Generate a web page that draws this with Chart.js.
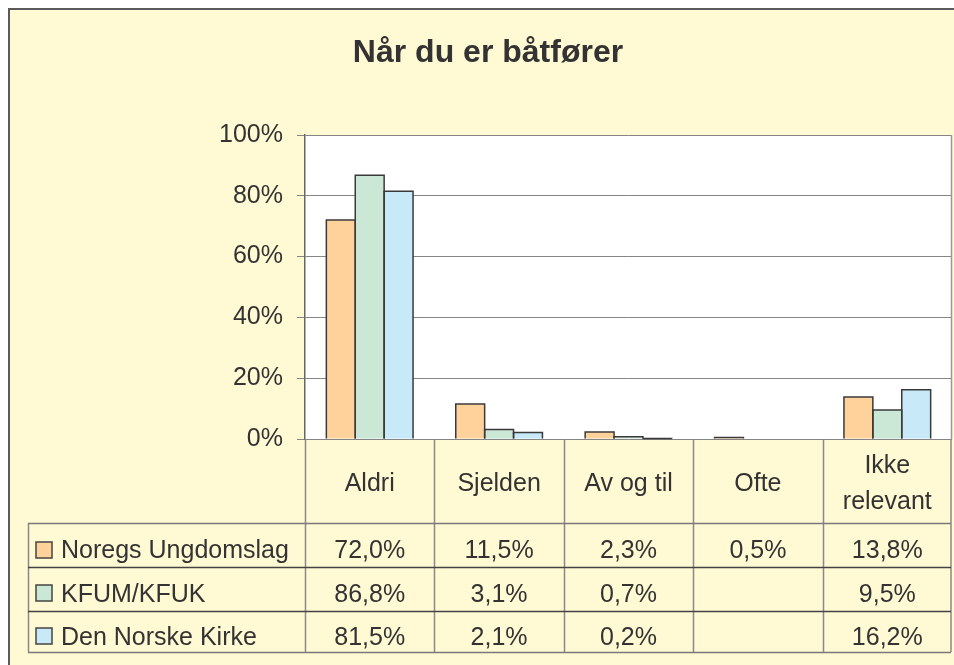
<!DOCTYPE html>
<html>
<head>
<meta charset="utf-8">
<script src="https://cdn.jsdelivr.net/npm/chart.js@4"></script>
<style>
  html, body { margin: 0; padding: 0; background: #ffffff; }
  #wrap { width: 954px; height: 665px; }
</style>
</head>
<body>
<div id="wrap"><canvas id="c" width="954" height="665"></canvas></div>
<script>
const title = 'Når du er båtfører';
const categories = [['Aldri'], ['Sjelden'], ['Av og til'], ['Ofte'], ['Ikke', 'relevant']];
const seriesNames = ['Noregs Ungdomslag', 'KFUM/KFUK', 'Den Norske Kirke'];
const noregsUngdomslag = [72.0, 11.5, 2.3, 0.5, 13.8];
const kfumKfuk = [86.8, 3.1, 0.7, null, 9.5];
const denNorskeKirke = [81.5, 2.1, 0.2, null, 16.2];
const yTicks = [0, 20, 40, 60, 80, 100];
const seriesColors = ['#FFD29C', '#CBE7D5', '#C8E9F8'];

const allSeries = [noregsUngdomslag, kfumKfuk, denNorskeKirke];
const FONT = '"Liberation Sans", Arial, Helvetica, sans-serif';
const TEXT = '#333333';

function fmt(v) {
  if (v === null || v === undefined) return '';
  return v.toFixed(1).replace('.', ',') + '%';
}

const decor = {
  id: 'decor',
  beforeDraw(chart) {
    const ctx = chart.ctx;
    const a = chart.chartArea;
    ctx.save();
    ctx.fillStyle = '#ffffff';
    ctx.fillRect(0, 0, chart.width, chart.height);
    ctx.fillStyle = '#FFF9D4';
    ctx.fillRect(8, 8, chart.width - 8, chart.height - 8);
    ctx.strokeStyle = '#5a5a5a';
    ctx.lineWidth = 2;
    ctx.beginPath();
    ctx.moveTo(8, 9); ctx.lineTo(chart.width, 9);
    ctx.moveTo(9, 8); ctx.lineTo(9, chart.height);
    ctx.stroke();
    ctx.fillStyle = '#ffffff';
    ctx.fillRect(a.left, a.top, a.right - a.left, a.bottom - a.top);
    ctx.restore();
  },
  afterDatasetsDraw(chart) {
    // outline every bar (including very thin ones) from the library's own element geometry
    const ctx = chart.ctx;
    ctx.save();
    ctx.strokeStyle = '#3a3a3a';
    ctx.lineWidth = 1.5;
    chart.data.datasets.forEach((ds, di) => {
      const meta = chart.getDatasetMeta(di);
      meta.data.forEach((el, i) => {
        const v = ds.data[i];
        if (v === null || v === undefined) return;
        const p = el.getProps(['x', 'y', 'base', 'width'], true);
        const l = p.x - p.width / 2, r = p.x + p.width / 2;
        ctx.beginPath();
        ctx.moveTo(l, p.base);
        ctx.lineTo(l, p.y);
        ctx.lineTo(r, p.y);
        ctx.lineTo(r, p.base);
        ctx.stroke();
      });
    });
    ctx.restore();
  },
  afterDraw(chart) {
    const ctx = chart.ctx;
    const a = chart.chartArea;
    const xs = chart.scales.x;
    ctx.save();
    // plot border right
    ctx.strokeStyle = '#999999';
    ctx.lineWidth = 1.5;
    ctx.beginPath();
    ctx.moveTo(a.right - 0.5, a.top); ctx.lineTo(a.right - 0.5, a.bottom);
    ctx.stroke();

    // title
    ctx.fillStyle = TEXT;
    ctx.font = 'bold 32px ' + FONT;
    ctx.textAlign = 'center';
    ctx.textBaseline = 'alphabetic';
    ctx.fillText(title, 488, 62);

    // data table
    const n = categories.length;
    const colW = (a.right - a.left) / n;
    const headTop = a.bottom;
    const headBottom = 523;
    const rowBottoms = [567, 611, 652];
    const tableLeft = 28;
    const tableRight = a.right - 1;

    ctx.lineWidth = 1.5;
    ctx.strokeStyle = '#8a8a8a';
    ctx.beginPath();
    for (let i = 0; i < n; i++) {
      const xl = xs.getPixelForValue(i) - colW / 2;
      ctx.moveTo(Math.round(xl) + 0.5, headTop);
      ctx.lineTo(Math.round(xl) + 0.5, rowBottoms[2]);
    }
    ctx.moveTo(tableRight, headTop); ctx.lineTo(tableRight, rowBottoms[2]);
    ctx.moveTo(tableLeft + 0.5, headBottom); ctx.lineTo(tableLeft + 0.5, rowBottoms[2]);
    ctx.stroke();
    ctx.strokeStyle = '#7a7a7a';
    ctx.beginPath();
    ctx.moveTo(tableLeft, headBottom + 0.5); ctx.lineTo(tableRight, headBottom + 0.5);
    ctx.moveTo(tableLeft, rowBottoms[2] + 0.5); ctx.lineTo(tableRight, rowBottoms[2] + 0.5);
    ctx.stroke();
    ctx.strokeStyle = '#444444';
    ctx.beginPath();
    ctx.moveTo(tableLeft, rowBottoms[0] + 0.5); ctx.lineTo(tableRight, rowBottoms[0] + 0.5);
    ctx.moveTo(tableLeft, rowBottoms[1] + 0.5); ctx.lineTo(tableRight, rowBottoms[1] + 0.5);
    ctx.stroke();

    // header labels
    ctx.font = '25px ' + FONT;
    ctx.fillStyle = TEXT;
    ctx.textAlign = 'center';
    for (let i = 0; i < n; i++) {
      const cx = xs.getPixelForValue(i);
      const lines = categories[i];
      if (lines.length === 1) {
        ctx.fillText(lines[0], cx, 491);
      } else {
        ctx.fillText(lines[0], cx, 473);
        ctx.fillText(lines[1], cx, 509);
      }
    }

    // rows
    const baselines = [558, 602, 645];
    const swTops = [542, 585, 628];
    for (let r = 0; r < allSeries.length; r++) {
      ctx.fillStyle = seriesColors[r];
      ctx.fillRect(36, swTops[r], 16, 16);
      ctx.strokeStyle = '#444444';
      ctx.lineWidth = 1.5;
      ctx.strokeRect(36, swTops[r], 16, 16);
      ctx.fillStyle = TEXT;
      ctx.textAlign = 'left';
      ctx.fillText(seriesNames[r], 61, baselines[r]);
      ctx.textAlign = 'center';
      for (let i = 0; i < n; i++) {
        ctx.fillText(fmt(allSeries[r][i]), xs.getPixelForValue(i), baselines[r]);
      }
    }
    ctx.restore();
  }
};

new Chart(document.getElementById('c'), {
  type: 'bar',
  data: {
    labels: categories,
    datasets: seriesNames.map((name, i) => ({
      label: name,
      data: allSeries[i],
      backgroundColor: seriesColors[i],
      borderWidth: 0,
      categoryPercentage: 0.67,
      barPercentage: 1.0
    }))
  },
  options: {
    responsive: false,
    devicePixelRatio: 1,
    animation: false,
    layout: { padding: { left: 0, right: 2, top: 135, bottom: 665 - 439 } },
    plugins: {
      legend: { display: false },
      title: { display: false },
      tooltip: { enabled: false }
    },
    scales: {
      x: {
        type: 'category',
        display: false,
        offset: true
      },
      y: {
        min: 0,
        max: 100,
        afterFit(scale) { scale.width = 305; },
        afterBuildTicks(scale) { scale.ticks = yTicks.map(v => ({ value: v })); },
        ticks: {
          padding: 14,
          color: TEXT,
          font: { family: FONT, size: 25 },
          callback: v => v + '%'
        },
        grid: {
          color: '#858585',
          lineWidth: 1,
          tickLength: 8,
          drawTicks: true
        },
        border: { color: '#666666', width: 1.5 }
      }
    }
  },
  plugins: [decor]
});
</script>
</body>
</html>
